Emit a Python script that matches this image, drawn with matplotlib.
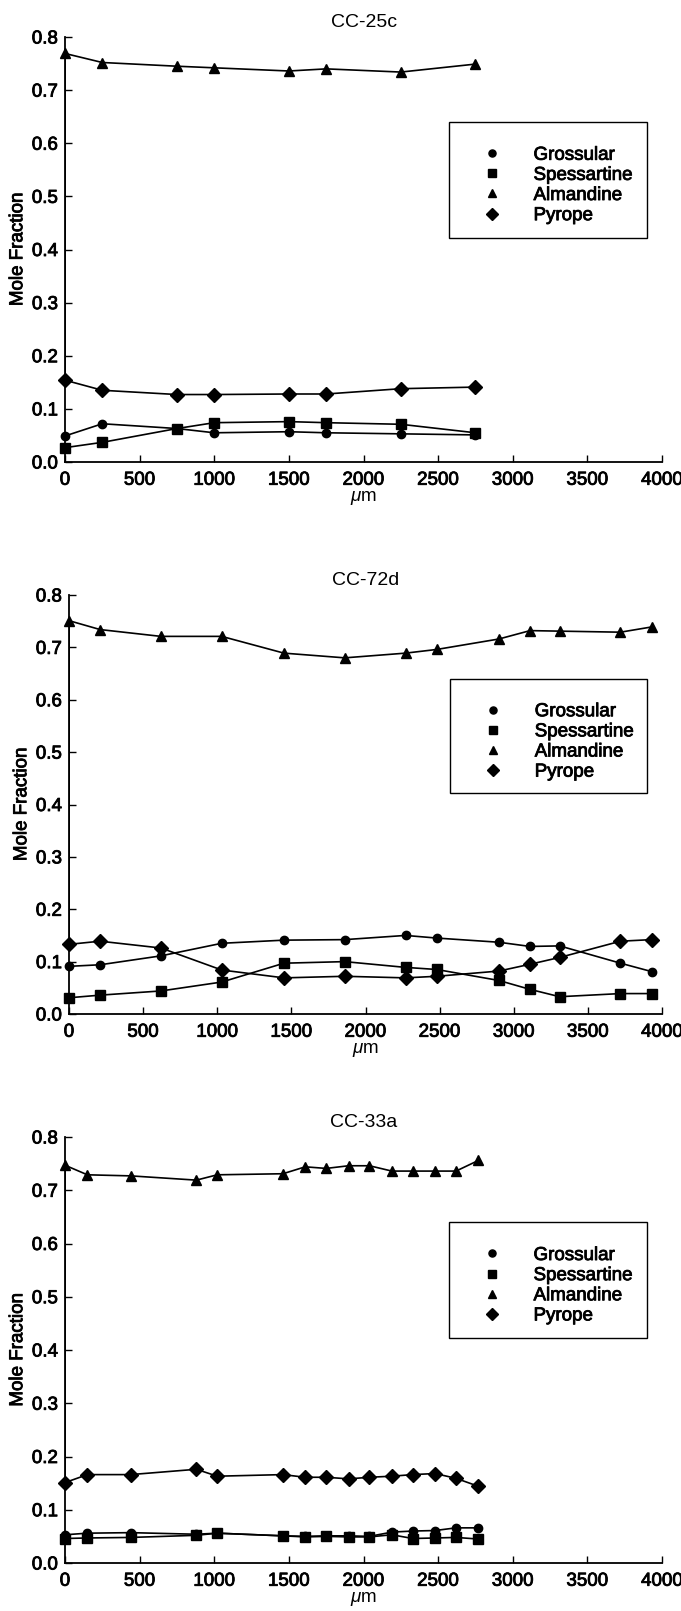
import numpy as np
import matplotlib
matplotlib.use('Agg')
from matplotlib import pyplot as plt
from matplotlib.lines import Line2D
from matplotlib.patches import Rectangle
import matplotlib.patheffects as pe

plt.rcParams['font.family'] = ['Liberation Sans', 'DejaVu Sans']
plt.rcParams['mathtext.fontset'] = 'custom'
plt.rcParams['mathtext.it'] = 'Liberation Sans:italic'
plt.rcParams['mathtext.rm'] = 'Liberation Sans'

names = ['Grossular', 'Spessartine', 'Almandine', 'Pyrope']
markers = ['o', 's', '^', 'D']
sizes = [6, 6.5, 7, 7]

# CC-25c
x1 = [0, 250, 750, 1000, 1500, 1750, 2250, 2750]
gro1 = [0.049, 0.072, 0.063, 0.055, 0.057, 0.055, 0.053, 0.051]
spe1 = [0.027, 0.037, 0.063, 0.074, 0.076, 0.074, 0.071, 0.055]
alm1 = [0.769, 0.752, 0.745, 0.742, 0.736, 0.740, 0.734, 0.749]
pyr1 = [0.154, 0.135, 0.127, 0.127, 0.128, 0.128, 0.138, 0.141]

# CC-72d
x2 = [0, 210, 620, 1030, 1450, 1860, 2270, 2480, 2900, 3110, 3310, 3720, 3930]
gro2 = [0.091, 0.094, 0.111, 0.135, 0.141, 0.142, 0.150, 0.145, 0.137, 0.129, 0.130, 0.097, 0.081]
spe2 = [0.031, 0.036, 0.044, 0.061, 0.097, 0.100, 0.089, 0.085, 0.064, 0.047, 0.033, 0.039, 0.039]
alm2 = [0.751, 0.734, 0.721, 0.721, 0.689, 0.680, 0.689, 0.696, 0.716, 0.732, 0.731, 0.729, 0.739]
pyr2 = [0.133, 0.139, 0.126, 0.084, 0.069, 0.072, 0.069, 0.072, 0.082, 0.095, 0.108, 0.139, 0.142]

# CC-33a
x3 = [0, 150, 440, 880, 1020, 1460, 1610, 1750, 1900, 2040, 2190, 2330, 2480, 2620, 2770]
gro3 = [0.053, 0.056, 0.057, 0.054, 0.056, 0.051, 0.050, 0.051, 0.051, 0.050, 0.058, 0.060, 0.061, 0.066, 0.066]
spe3 = [0.046, 0.047, 0.048, 0.052, 0.056, 0.051, 0.049, 0.050, 0.049, 0.049, 0.053, 0.046, 0.047, 0.048, 0.045]
alm3 = [0.747, 0.729, 0.727, 0.719, 0.729, 0.731, 0.744, 0.741, 0.746, 0.746, 0.736, 0.736, 0.736, 0.736, 0.756]
pyr3 = [0.151, 0.166, 0.166, 0.176, 0.163, 0.166, 0.161, 0.161, 0.158, 0.161, 0.163, 0.166, 0.168, 0.159, 0.144]

titles = ['CC-25c', 'CC-72d', 'CC-33a']
xs = [x1, x2, x3]
series = [[gro1, spe1, alm1, pyr1], [gro2, spe2, alm2, pyr2], [gro3, spe3, alm3, pyr3]]

W, H = 681, 1611
# axes boxes in pixels: left, right, top, bottom
boxes = [(65, 662, 37, 462), (69, 662, 595, 1014), (65, 662, 1137, 1563)]

fig = plt.figure(figsize=(W / 100, H / 100), dpi=100)
fs = 13.5
# the scanned type is heavier than plain regular weight
heavy = [pe.withStroke(linewidth=0.6, foreground='black')]

for k in range(3):
    l, r, t, b = boxes[k]
    ax = fig.add_axes([l / W, 1 - b / H, (r - l) / W, (b - t) / H])
    x = xs[k]
    for y, m, s in zip(series[k], markers, sizes):
        ax.plot(x, y, color='black', lw=1.2, marker=m, ms=s, clip_on=False, zorder=3)
    # the almandine line drops to the first pyrope point at x = 0
    ax.plot([x[0], x[0]], [series[k][2][0], series[k][3][0]], color='black', lw=1.4, zorder=2)

    ax.set_xlim(0, 4000)
    ax.set_ylim(0, 0.8)
    ax.set_xticks(np.arange(0, 4001, 500))
    ax.set_yticks(np.arange(0, 0.81, 0.1))
    ax.yaxis.set_major_formatter(matplotlib.ticker.FormatStrFormatter('%.1f'))
    ax.spines['top'].set_visible(False)
    ax.spines['right'].set_visible(False)
    ax.spines['left'].set_linewidth(1.3)
    ax.spines['bottom'].set_linewidth(1.3)
    ax.tick_params(axis='x', direction='in', length=5, width=1, labelsize=fs, pad=7)
    ax.tick_params(axis='y', direction='in', length=5, width=1, labelsize=fs, pad=5)
    for lab in ax.get_xticklabels() + ax.get_yticklabels():
        lab.set_path_effects(heavy)
    ax.set_title(titles[k], fontsize=14, pad=7)
    ax.set_xlabel(r'$\mu$m', fontsize=fs, labelpad=0)
    ax.set_ylabel('Mole Fraction', fontsize=fs, labelpad=4, path_effects=heavy)

    # legend box
    ax.add_patch(Rectangle((0.643, 0.527), 0.332, 0.273, transform=ax.transAxes,
                           fill=False, lw=1.0, edgecolor='black', clip_on=False))
    handles = [Line2D([], [], color='black', ls='none', marker=m, ms=s * 0.85)
               for m, s in zip(markers, sizes)]
    leg = ax.legend(handles, names, loc='upper left', bbox_to_anchor=(0.70, 0.742),
                    frameon=False, fontsize=fs, borderpad=0, borderaxespad=0,
                    handlelength=1.0, handletextpad=1.7, labelspacing=0.16)
    for txt in leg.get_texts():
        txt.set_path_effects(heavy)

plt.savefig('out.png', dpi=100)
